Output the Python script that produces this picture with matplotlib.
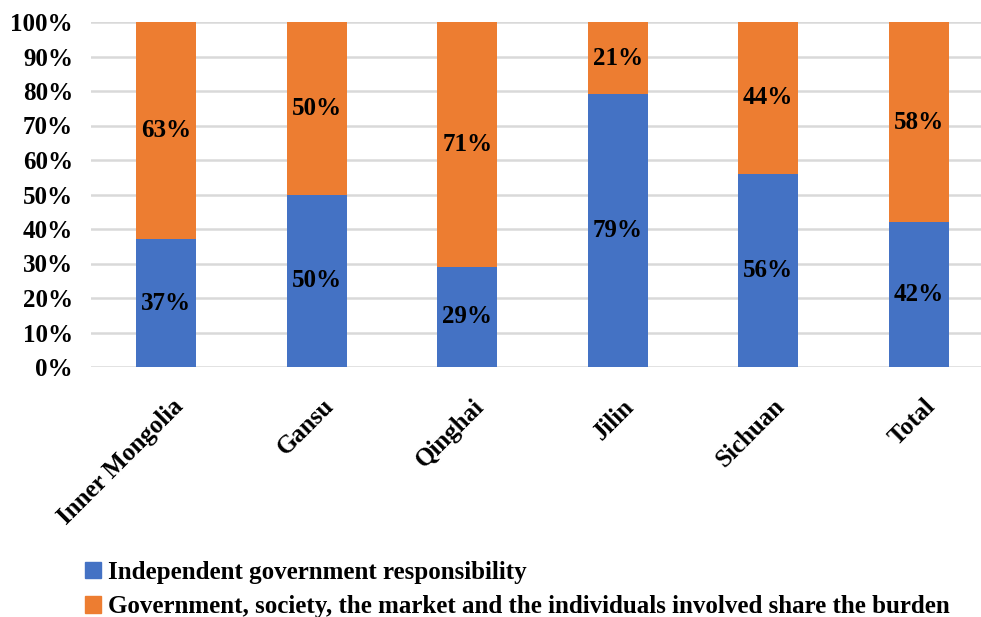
import matplotlib
matplotlib.use("Agg")
import matplotlib.pyplot as plt
import matplotlib.transforms as mtransforms
from matplotlib.patches import Patch
from matplotlib.ticker import FuncFormatter, MultipleLocator

regions = ["Inner Mongolia", "Gansu", "Qinghai", "Jilin", "Sichuan", "Total"]
independent = [37, 50, 29, 79, 56, 42]
shared = [63, 50, 71, 21, 44, 58]
series_names = [
    "Independent government responsibility",
    "Government, society, the market and the individuals involved share the burden",
]

BLUE = "#4472C4"
ORANGE = "#ED7D31"
FS = 18

plt.rcParams["font.family"] = ["Liberation Serif", "DejaVu Serif"]
plt.rcParams["font.weight"] = "bold"

fig = plt.figure(figsize=(9.81, 6.17), dpi=100)
ax = fig.add_axes([91 / 981, 250 / 617, 903 / 981, 345 / 617])

x = range(len(regions))
width = 0.4
ax.bar(x, independent, width=width, color=BLUE, zorder=2)
ax.bar(x, shared, width=width, bottom=independent, color=ORANGE, zorder=2)

for i, (lo, hi) in enumerate(zip(independent, shared)):
    ax.text(i, lo / 2, f"{lo}%", ha="center", va="center", fontsize=FS, fontweight="bold")
    ax.text(i, lo + hi / 2, f"{hi}%", ha="center", va="center", fontsize=FS, fontweight="bold")

ax.set_xlim(-0.5, len(regions) - 0.5)
ax.set_ylim(0, 100)
ax.yaxis.set_major_locator(MultipleLocator(10))
ax.yaxis.set_major_formatter(FuncFormatter(lambda v, _: f"{v:.0f}%"))
ax.grid(axis="y", color="#D9D9D9", linewidth=1.8, zorder=0)
ax.set_axisbelow(True)
for side in ["top", "right", "left", "bottom"]:
    ax.spines[side].set_visible(False)
ax.tick_params(axis="both", length=0, labelsize=FS)
ax.tick_params(axis="y", pad=13)

ax.set_xticks(list(x))
ax.set_xticklabels(regions, rotation=45, ha="right", rotation_mode="anchor",
                   fontsize=FS, fontweight="bold")
ax.tick_params(axis="x", pad=20)
shift = mtransforms.ScaledTranslation(5 / 100, 0, fig.dpi_scale_trans)
for lbl in ax.get_xticklabels():
    lbl.set_transform(lbl.get_transform() + shift)
for lbl in ax.get_yticklabels():
    lbl.set_fontweight("bold")

handles = [Patch(color=BLUE), Patch(color=ORANGE)]
fig.legend(handles, series_names, loc="upper left", bbox_to_anchor=(85 / 981, 1 - 561 / 617),
           frameon=False, prop={"size": FS, "weight": "bold"},
           borderpad=0, borderaxespad=0,
           handlelength=0.64, handleheight=0.64, handletextpad=0.3, labelspacing=0.45)

fig.savefig("out.png", dpi=100)
